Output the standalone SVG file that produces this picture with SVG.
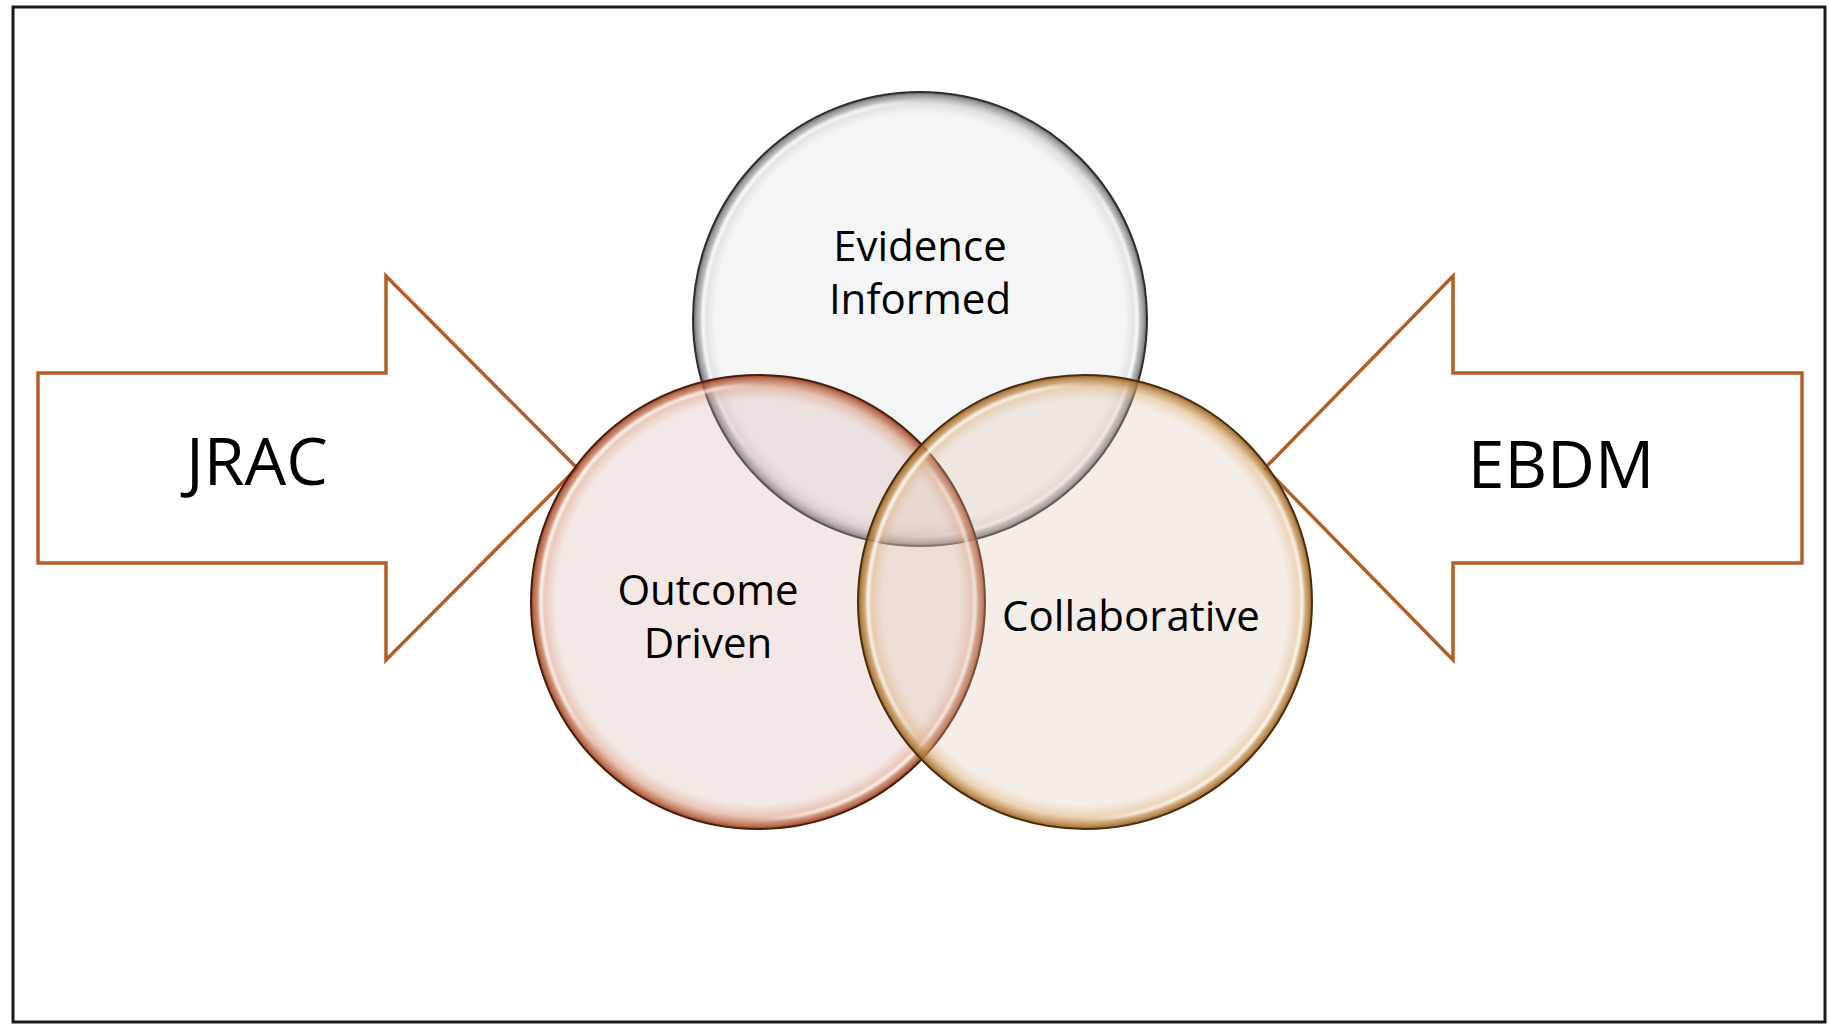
<svg xmlns="http://www.w3.org/2000/svg" width="1829" height="1029" viewBox="0 0 1829 1029">
  <defs>
    <radialGradient id="gTop" cx="0.5" cy="0.5" r="0.5">
      <stop offset="0" stop-color="#dcdee2" stop-opacity="0.3"/>
      <stop offset="0.9" stop-color="#dcdee2" stop-opacity="0.3"/>
      <stop offset="0.95" stop-color="#b8b8bc" stop-opacity="0.45"/>
      <stop offset="0.985" stop-color="#7a7a80" stop-opacity="0.75"/>
      <stop offset="1" stop-color="#505055" stop-opacity="0.9"/>
    </radialGradient>
    <radialGradient id="gLeft" cx="0.5" cy="0.5" r="0.5">
      <stop offset="0" stop-color="#d7b2a8" stop-opacity="0.3"/>
      <stop offset="0.89" stop-color="#d7b2a8" stop-opacity="0.3"/>
      <stop offset="0.945" stop-color="#d89478" stop-opacity="0.55"/>
      <stop offset="0.985" stop-color="#b05a38" stop-opacity="0.85"/>
      <stop offset="1" stop-color="#803010" stop-opacity="0.9"/>
    </radialGradient>
    <radialGradient id="gRight" cx="0.5" cy="0.5" r="0.5">
      <stop offset="0" stop-color="#dec3af" stop-opacity="0.3"/>
      <stop offset="0.89" stop-color="#dec3af" stop-opacity="0.3"/>
      <stop offset="0.945" stop-color="#dcae78" stop-opacity="0.55"/>
      <stop offset="0.985" stop-color="#b07a38" stop-opacity="0.85"/>
      <stop offset="1" stop-color="#805020" stop-opacity="0.9"/>
    </radialGradient>
    <linearGradient id="hl" x1="0.05" y1="0.3" x2="0.95" y2="0.7">
      <stop offset="0" stop-color="#ffffff" stop-opacity="0.9"/>
      <stop offset="0.2" stop-color="#ffffff" stop-opacity="0.7"/>
      <stop offset="0.3" stop-color="#ffffff" stop-opacity="0"/>
      <stop offset="0.7" stop-color="#ffffff" stop-opacity="0"/>
      <stop offset="0.8" stop-color="#ffffff" stop-opacity="0.7"/>
      <stop offset="1" stop-color="#ffffff" stop-opacity="0.9"/>
    </linearGradient>
    <filter id="soft" x="-5%" y="-5%" width="110%" height="110%">
      <feGaussianBlur stdDeviation="1"/>
    </filter>
  </defs>
  <style>
    .arrow { fill: #ffffff; stroke: #b55d27; stroke-width: 3.5; stroke-linejoin: miter; }
    .lbl { font-family: 'Open Sans', 'Liberation Sans', sans-serif; fill: #000000; text-anchor: middle; }
    .big { font-size: 66px; }
    .mid { font-size: 42px; }
    .hl { fill: none; stroke: url(#hl); stroke-width: 3.5; filter: url(#soft); }
  </style>
  <rect x="0" y="0" width="1829" height="1029" fill="#ffffff"/>
  <rect id="frame" x="13" y="7" width="1812" height="1015" fill="none" stroke="#1a1a1a" stroke-width="3"/>

  <g id="connectors">
    <polygon id="arrow-jrac" class="arrow" points="38,373 386,373 386,276 577,468 386,660 386,563 38,563"/>
    <polygon id="arrow-ebdm" class="arrow" points="1802,373 1453,373 1453,276 1265,468 1453,660 1453,563 1802,563"/>
  </g>

  <g id="node-jrac">
    <text class="lbl big" x="257" y="485">JRAC</text>
  </g>
  <g id="node-ebdm">
    <text class="lbl big" x="1561" y="488">EBDM</text>
  </g>

  <g id="node-evidence">
    <circle cx="920" cy="319" r="227" fill="url(#gTop)" stroke="#2e2e2e" stroke-width="2"/>
    <circle class="hl" cx="920" cy="319" r="217"/>
  </g>
  <g id="node-outcome">
    <circle cx="758" cy="602" r="227" fill="url(#gLeft)" stroke="#4a1e0c" stroke-width="2"/>
    <circle class="hl" cx="758" cy="602" r="217"/>
  </g>
  <g id="node-collab">
    <circle cx="1085" cy="602" r="227" fill="url(#gRight)" stroke="#4a2e0c" stroke-width="2"/>
    <circle class="hl" cx="1085" cy="602" r="217"/>
  </g>

  <g id="labels">
    <text class="lbl mid" x="920" y="261">Evidence</text>
    <text class="lbl mid" x="920" y="314">Informed</text>
    <text class="lbl mid" x="708" y="605">Outcome</text>
    <text class="lbl mid" x="708" y="658">Driven</text>
    <text class="lbl mid" x="1131" y="631">Collaborative</text>
  </g>
</svg>
